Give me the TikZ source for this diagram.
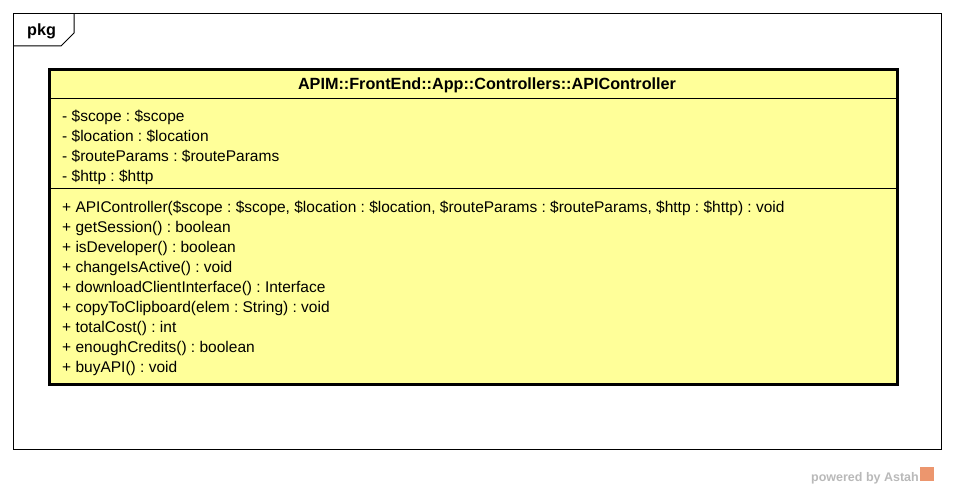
\documentclass[tikz,border=0pt]{standalone}
\usepackage{fontspec}
\setmainfont{Liberation Sans}
\usepackage{tikz}
\usetikzlibrary{positioning,calc}

\definecolor{classfill}{RGB}{255,255,153}
\definecolor{astahgray}{RGB}{185,185,185}
\definecolor{astahorange}{RGB}{236,150,110}

\tikzset{
    member/.style={anchor=base west, inner sep=0pt, font=\fontsize{15.5}{18}\selectfont},
    heading/.style={inner sep=0pt, font=\fontsize{16.2}{18}\selectfont\bfseries},
}

\begin{document}
\frenchspacing
\begin{tikzpicture}[x=1pt,y=-1pt]
    \useasboundingbox (0,0) rectangle (954,489);
    % package frame
    \node[draw, line width=1pt, minimum width=928pt, minimum height=436pt, anchor=north west, inner sep=0pt] (pkg) at (13,13) {};
    \draw[line width=1pt] (pkg.west |- 0,46) -- (61,46) -- (74,33) -- (74,13.5);
    \node[heading, anchor=base west] (pkgname) at (27,36) {pkg};
    % class box
    \node[draw, fill=classfill, line width=3pt, minimum width=848pt, minimum height=315pt, anchor=north west, inner sep=0pt] (cls) at (48,68) {};
    \draw[line width=1pt] (cls.west |- 0,99) -- (cls.east |- 0,99);
    \draw[line width=1pt] (cls.west |- 0,189) -- (cls.east |- 0,189);
    \node[heading] (title) at (487,85) {APIM::FrontEnd::App::Controllers::APIController};
    \foreach \t [count=\i] in {- \$scope : \$scope, - \$location : \$location,
        - \$routeParams : \$routeParams, - \$http : \$http}
        \node[member] (attr\i) at (62,101.5+20*\i) {\t};
    \foreach \t [count=\i] in {{+ APIController(\$scope : \$scope, \$location : \$location, \$routeParams : \$routeParams, \$http : \$http) : void},
        + getSession() : boolean, + isDeveloper() : boolean, + changeIsActive() : void,
        + downloadClientInterface() : Interface, + copyToClipboard(elem : String) : void,
        + totalCost() : int, + enoughCredits() : boolean, + buyAPI() : void}
        \node[member] (op\i) at (62,192.5+20*\i) {\t};
    % footer
    \node[anchor=base east, inner sep=0pt, text=astahgray, font=\fontsize{12.5}{14}\selectfont\bfseries] (powered) at (919,481) {powered by Astah};
    \node[fill=astahorange, minimum size=14pt, inner sep=0pt, anchor=west] (logo) at ($(powered.east)+(1,-4)$) {};
\end{tikzpicture}
\end{document}
